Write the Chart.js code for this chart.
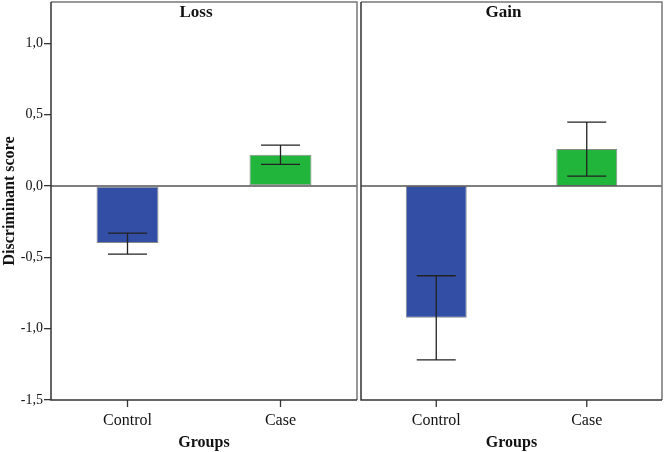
<!DOCTYPE html>
<html>
<head>
<meta charset="utf-8">
<script src="https://cdn.jsdelivr.net/npm/chart.js@4/dist/chart.umd.min.js"></script>
<style>
  html, body { margin: 0; padding: 0; background: #fff; }
  #wrap { position: relative; width: 666px; height: 452px; }
  .pane { position: absolute; top: 0; height: 452px; }
  #p1 { left: 0; width: 358px; }
  #p2 { left: 358px; width: 308px; }
</style>
</head>
<body>
<div id="wrap">
  <div class="pane" id="p1"><canvas id="c1"></canvas></div>
  <div class="pane" id="p2"><canvas id="c2"></canvas></div>
</div>
<script>
const categories = ['Control', 'Case'];
const lossMean  = [-0.40, 0.22];
const lossLower = [-0.478, 0.152];
const lossUpper = [-0.33, 0.287];
const gainMean  = [-0.923, 0.259];
const gainLower = [-1.219, 0.07];
const gainUpper = [-0.629, 0.448];
const yTicks = [-1.5, -1.0, -0.5, 0.0, 0.5, 1.0];
const barColors = ['#334FA5', '#22B53C'];
const panelTitles = ['Loss', 'Gain'];

Chart.defaults.font.family = "'Liberation Serif', 'Times New Roman', serif";
Chart.defaults.color = '#111';

const panelPlugin = {
  id: 'panel',
  afterDatasetsDraw(chart, args, opts) {
    const ctx = chart.ctx;
    const a = chart.chartArea;
    const x = chart.scales.x, y = chart.scales.y;
    ctx.save();
    // zero reference line
    const y0 = y.getPixelForValue(0);
    ctx.strokeStyle = '#555';
    ctx.lineWidth = 1.5;
    ctx.beginPath();
    ctx.moveTo(a.left, y0); ctx.lineTo(a.right, y0);
    ctx.stroke();
    // error bars
    ctx.strokeStyle = '#222';
    ctx.lineWidth = 1.3;
    opts.lower.forEach((lo, i) => {
      const hi = opts.upper[i];
      const cx = x.getPixelForValue(i);
      const yl = y.getPixelForValue(lo), yh = y.getPixelForValue(hi);
      const hw = 19.5;
      ctx.beginPath();
      ctx.moveTo(cx, yl); ctx.lineTo(cx, yh);
      ctx.moveTo(cx - hw, yl); ctx.lineTo(cx + hw, yl);
      ctx.moveTo(cx - hw, yh); ctx.lineTo(cx + hw, yh);
      ctx.stroke();
    });
    // x tick marks at category centres
    ctx.strokeStyle = '#333';
    ctx.lineWidth = 1.3;
    x.ticks.forEach((t, i) => {
      const cx = x.getPixelForTick(i);
      ctx.beginPath();
      ctx.moveTo(cx, a.bottom); ctx.lineTo(cx, a.bottom + 7);
      ctx.stroke();
    });
    // frame
    ctx.lineWidth = 1.5;
    ctx.strokeStyle = '#777';
    ctx.beginPath();
    ctx.moveTo(a.left, a.top); ctx.lineTo(a.right, a.top); ctx.lineTo(a.right, a.bottom);
    ctx.stroke();
    ctx.strokeStyle = '#333';
    ctx.beginPath();
    ctx.moveTo(a.left, a.top); ctx.lineTo(a.left, a.bottom); ctx.lineTo(a.right, a.bottom);
    ctx.stroke();
    // panel title
    ctx.fillStyle = '#111';
    ctx.font = "bold 17px 'Liberation Serif', serif";
    ctx.textAlign = 'center';
    ctx.textBaseline = 'middle';
    ctx.fillText(opts.title, (a.left + a.right) / 2 - 8, a.top + 11);
    ctx.restore();
  }
};

function makeChart(id, means, lower, upper, title, showY, padding) {
  return new Chart(document.getElementById(id), {
    type: 'bar',
    data: {
      labels: categories,
      datasets: [{
        data: means,
        backgroundColor: barColors,
        borderColor: '#8a8a8a',
        borderWidth: 1,
        borderSkipped: false,
        barPercentage: 0.405,
        categoryPercentage: 1.0
      }]
    },
    options: {
      responsive: true,
      maintainAspectRatio: false,
      animation: false,
      events: [],
      layout: { padding: padding },
      plugins: {
        legend: { display: false },
        tooltip: { enabled: false },
        panel: { lower: lower, upper: upper, title: title }
      },
      scales: {
        x: {
          offset: true,
          grid: { display: false },
          border: { display: false },
          ticks: { font: { size: 16 }, padding: 3, color: '#111' },
          title: { display: true, text: 'Groups', font: { size: 16, weight: 'bold' }, padding: { top: 0, bottom: 0 }, color: '#111' },
          afterFit(s) { s.height = 52; s.paddingLeft = 0; s.paddingRight = 0; }
        },
        y: {
          display: showY,
          min: -1.5,
          max: 1.29,
          afterBuildTicks(s) { s.ticks = yTicks.map(v => ({ value: v })); },
          grid: { display: true, drawOnChartArea: false, drawTicks: true, tickLength: 7, color: '#333', lineWidth: 1.3 },
          border: { display: false },
          ticks: {
            font: { size: 14 }, padding: 1, color: '#111',
            callback: v => v.toFixed(1).replace('.', ',')
          },
          title: { display: true, text: 'Discriminant score', font: { size: 16, weight: 'bold' }, padding: { top: 0, bottom: 0 }, color: '#111' },
          afterFit(s) { s.width = showY ? 51 : 0; s.paddingTop = 0; s.paddingBottom = 0; }
        }
      }
    },
    plugins: [panelPlugin]
  });
}

makeChart('c1', lossMean, lossLower, lossUpper, panelTitles[0], true, { top: 2, right: 1, left: 0, bottom: 0 });
makeChart('c2', gainMean, gainLower, gainUpper, panelTitles[1], false, { top: 2, right: 4, left: 3, bottom: 0 });
</script>
</body>
</html>
